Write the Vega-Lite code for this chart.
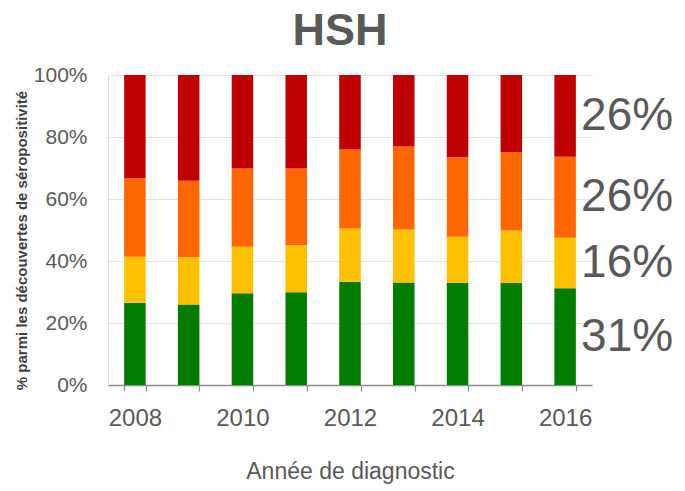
{
  "$schema": "https://vega.github.io/schema/vega-lite/v6.json",
  "width": 484,
  "height": 310,
  "autosize": "none",
  "padding": {"left": 108, "top": 75, "right": 93, "bottom": 106},
  "background": "white",
  "config": {
    "font": "Liberation Sans",
    "view": {"stroke": null}
  },
  "title": {
    "text": "HSH",
    "fontSize": 45,
    "fontWeight": "bold",
    "color": "#595959",
    "font": "Liberation Sans",
    "anchor": "middle",
    "offset": 10,
    "dx": -10
  },
  "data": {
    "values": [
      {"year": "2008", "stade": "Précoce", "ord": 1, "pct": 26.5},
      {"year": "2008", "stade": "Intermédiaire", "ord": 2, "pct": 14.9},
      {"year": "2008", "stade": "Avancé", "ord": 3, "pct": 25.3},
      {"year": "2008", "stade": "Tardif", "ord": 4, "pct": 33.3},
      {"year": "2009", "stade": "Précoce", "ord": 1, "pct": 26.0},
      {"year": "2009", "stade": "Intermédiaire", "ord": 2, "pct": 15.3},
      {"year": "2009", "stade": "Avancé", "ord": 3, "pct": 24.6},
      {"year": "2009", "stade": "Tardif", "ord": 4, "pct": 34.1},
      {"year": "2010", "stade": "Précoce", "ord": 1, "pct": 29.6},
      {"year": "2010", "stade": "Intermédiaire", "ord": 2, "pct": 15.0},
      {"year": "2010", "stade": "Avancé", "ord": 3, "pct": 25.2},
      {"year": "2010", "stade": "Tardif", "ord": 4, "pct": 30.2},
      {"year": "2011", "stade": "Précoce", "ord": 1, "pct": 29.9},
      {"year": "2011", "stade": "Intermédiaire", "ord": 2, "pct": 15.2},
      {"year": "2011", "stade": "Avancé", "ord": 3, "pct": 24.7},
      {"year": "2011", "stade": "Tardif", "ord": 4, "pct": 30.2},
      {"year": "2012", "stade": "Précoce", "ord": 1, "pct": 33.3},
      {"year": "2012", "stade": "Intermédiaire", "ord": 2, "pct": 17.2},
      {"year": "2012", "stade": "Avancé", "ord": 3, "pct": 25.5},
      {"year": "2012", "stade": "Tardif", "ord": 4, "pct": 24.0},
      {"year": "2013", "stade": "Précoce", "ord": 1, "pct": 33.1},
      {"year": "2013", "stade": "Intermédiaire", "ord": 2, "pct": 17.1},
      {"year": "2013", "stade": "Avancé", "ord": 3, "pct": 26.7},
      {"year": "2013", "stade": "Tardif", "ord": 4, "pct": 23.1},
      {"year": "2014", "stade": "Précoce", "ord": 1, "pct": 33.0},
      {"year": "2014", "stade": "Intermédiaire", "ord": 2, "pct": 14.8},
      {"year": "2014", "stade": "Avancé", "ord": 3, "pct": 25.7},
      {"year": "2014", "stade": "Tardif", "ord": 4, "pct": 26.5},
      {"year": "2015", "stade": "Précoce", "ord": 1, "pct": 33.0},
      {"year": "2015", "stade": "Intermédiaire", "ord": 2, "pct": 16.8},
      {"year": "2015", "stade": "Avancé", "ord": 3, "pct": 25.3},
      {"year": "2015", "stade": "Tardif", "ord": 4, "pct": 24.9},
      {"year": "2016", "stade": "Précoce", "ord": 1, "pct": 31.2},
      {"year": "2016", "stade": "Intermédiaire", "ord": 2, "pct": 16.3},
      {"year": "2016", "stade": "Avancé", "ord": 3, "pct": 26.1},
      {"year": "2016", "stade": "Tardif", "ord": 4, "pct": 26.4}
    ]
  },
  "encoding": {
    "x": {
      "field": "year",
      "type": "ordinal",
      "scale": {"paddingInner": 0.6, "paddingOuter": 0.3},
      "axis": {
        "title": "Année de diagnostic",
        "labelAngle": 0,
        "labelExpr": "toNumber(datum.value) % 2 == 0 ? datum.label : ''",
        "labelFontSize": 24,
        "labelColor": "#595959",
        "labelPadding": 15,
        "tickBand": "extent",
        "tickSize": 6,
        "tickColor": "#8c8c8c",
        "domainColor": "#8c8c8c",
        "domainWidth": 1.5,
        "tickWidth": 1.2,
        "titleFontSize": 23,
        "titleFontWeight": "normal",
        "titleColor": "#595959",
        "titleBaseline": "alphabetic",
        "titleY": 93,
        "grid": false
      }
    }
  },
  "layer": [
    {
      "mark": {"type": "bar"},
      "encoding": {
        "y": {
          "field": "pct",
          "type": "quantitative",
          "stack": "zero",
          "scale": {"domain": [0, 100], "nice": false},
          "axis": {
            "title": "% parmi les découvertes de séropositivité",
            "titleFontSize": 15,
            "titleFontWeight": "bold",
            "titleColor": "#404040",
            "titleX": -87,
            "titleY": 165,
            "titleAngle": -90,
            "titleAlign": "center",
            "titleBaseline": "middle",
            "values": [0, 20, 40, 60, 80, 100],
            "labelExpr": "datum.value + '%'",
            "labelFontSize": 21,
            "labelColor": "#595959",
            "labelPadding": 21,
            "ticks": false,
            "domain": true,
            "domainColor": "#d9d9d9",
            "gridColor": "#e3e3e3",
            "grid": true
          }
        },
        "color": {
          "field": "stade",
          "type": "nominal",
          "scale": {
            "domain": ["Précoce", "Intermédiaire", "Avancé", "Tardif"],
            "range": ["#007d00", "#ffc000", "#ff6600", "#c00000"]
          },
          "legend": null
        },
        "order": {"field": "ord", "type": "quantitative", "sort": "ascending"}
      }
    },
    {
      "transform": [
        {"filter": "datum.year == '2016'"},
        {"stack": "pct", "groupby": ["year"], "sort": [{"field": "ord", "order": "ascending"}], "as": ["y0", "y1"]},
        {"calculate": "(datum.y0 + datum.y1) / 2", "as": "mid"},
        {"calculate": "format(datum.pct, '.0f') + '%'", "as": "label"}
      ],
      "mark": {
        "type": "text",
        "align": "left",
        "baseline": "middle",
        "dx": 16,
        "fontSize": 46,
        "color": "#595959"
      },
      "encoding": {
        "y": {"field": "mid", "type": "quantitative"},
        "text": {"field": "label"}
      }
    }
  ]
}
